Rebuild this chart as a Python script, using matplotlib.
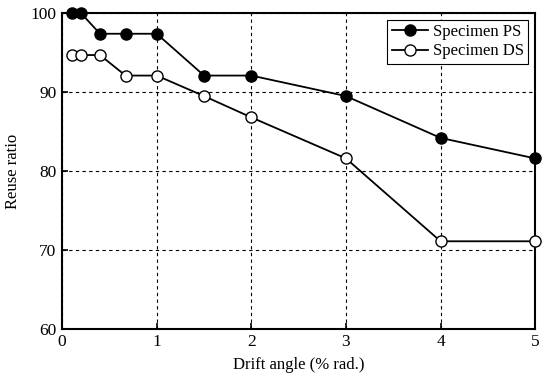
import matplotlib
matplotlib.use("Agg")
import matplotlib.pyplot as plt

# drift angle (% rad.) and reuse ratio
drift = [0.1, 0.2, 0.4, 0.67, 1.0, 1.5, 2.0, 3.0, 4.0, 5.0]
reusePS = [100.0, 100.0, 97.4, 97.4, 97.4, 92.1, 92.1, 89.5, 84.2, 81.6]
reuseDS = [94.7, 94.7, 94.7, 92.1, 92.1, 89.5, 86.8, 81.6, 71.1, 71.1]

xTicks = [0, 1, 2, 3, 4, 5]
yTicks = [60, 70, 80, 90, 100]

plt.rcParams['font.family'] = ['Liberation Serif', 'DejaVu Serif']

fig = plt.figure(figsize=(5.5, 3.78), dpi=100)
ax = fig.add_axes([0.113, 0.130, 0.860, 0.835])

ax.plot(drift, reusePS, color='black', linewidth=1.3, marker='o',
        markersize=8, markerfacecolor='black', markeredgecolor='black',
        label='Specimen PS', clip_on=False, zorder=5)
ax.plot(drift, reuseDS, color='black', linewidth=1.3, marker='o',
        markersize=8, markerfacecolor='white', markeredgecolor='black',
        markeredgewidth=1.0, label='Specimen DS', clip_on=False, zorder=5)

ax.set_xlim(0, 5)
ax.set_ylim(60, 100)
ax.set_xticks(xTicks)
ax.set_yticks(yTicks)
ax.grid(True, color='black', linestyle=(0, (3, 3)), linewidth=0.8)
ax.tick_params(direction='in', length=4, width=1.2, labelsize=12.5,
               pad=4, colors='black')
for s in ax.spines.values():
    s.set_linewidth(1.5)

ax.set_xlabel('Drift angle (% rad.)', fontsize=12, labelpad=5)
ax.set_ylabel('Reuse ratio', fontsize=12, labelpad=7)

leg = ax.legend(loc='upper right', fontsize=12, fancybox=False,
                edgecolor='black', framealpha=1, handlelength=2.2,
                borderpad=0.25, labelspacing=0.2, handletextpad=0.3,
                borderaxespad=0.4)
leg.get_frame().set_linewidth(0.8)

fig.savefig('out.png', dpi=100)
